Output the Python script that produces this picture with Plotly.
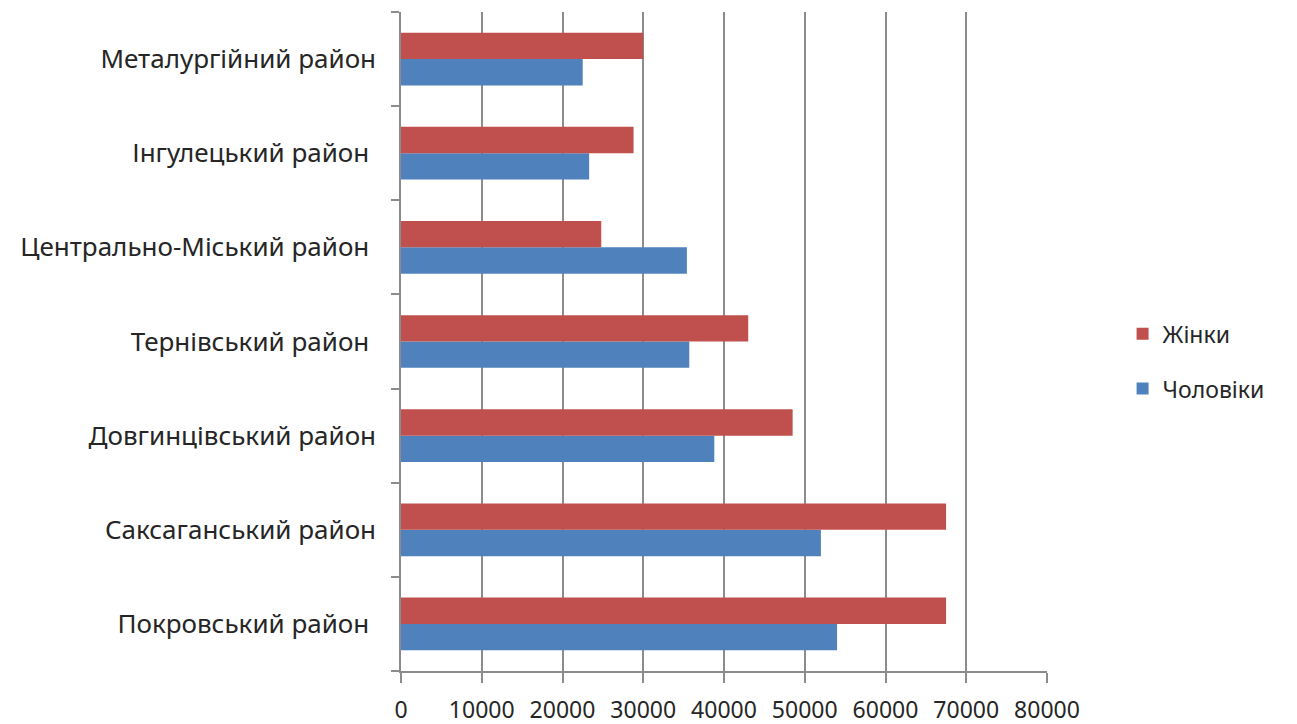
import plotly.graph_objects as go

districts = [
    "Покровський район ",
    "Саксаганський район",
    "Довгинцівський район",
    "Тернівський район ",
    "Центрально-Міський район ",
    "Інгулецький район ",
    "Металургійний район",
]
men = [54000, 52000, 38800, 35700, 35400, 23300, 22500]
women = [67500, 67500, 48500, 43000, 24800, 28800, 30000]
x_ticks = [0, 10000, 20000, 30000, 40000, 50000, 60000, 70000, 80000]

FONT = "Noto Sans"
GRID = "#8c8c8c"

fig = go.Figure()
fig.add_trace(go.Bar(y=districts, x=men, orientation="h", name="Чоловіки",
                     marker=dict(color="#4f81bd", line=dict(width=0)),
                     legendgroup="m", legendrank=2))
fig.add_trace(go.Bar(y=districts, x=women, orientation="h", name="Жінки",
                     marker=dict(color="#c0504d", line=dict(width=0)),
                     legendgroup="w", legendrank=1))

fig.update_layout(
    width=1297, height=724,
    margin=dict(l=393, r=258, t=4, b=61),
    paper_bgcolor="white", plot_bgcolor="white",
    barmode="group", bargap=0.44, bargroupgap=0,
    font=dict(family=FONT, size=22, color="#262626"),
    showlegend=True,
    legend=dict(x=1.117, y=0.47, xanchor="left", yanchor="middle",
                traceorder="grouped", tracegroupgap=22,
                font=dict(size=23), itemwidth=30),
    xaxis=dict(range=[0, 80000], tickvals=x_ticks, ticktext=[str(v) for v in x_ticks],
               showgrid=True, gridcolor=GRID, gridwidth=1.5,
               showline=True, linecolor=GRID, linewidth=1.5,
               ticks="outside", ticklen=10, tickcolor=GRID, tickwidth=1.5,
               zeroline=False, tickfont=dict(size=23), ticklabelstandoff=8,
               automargin=False),
    yaxis=dict(showline=True, linecolor=GRID, linewidth=1.5,
               ticks="outside", tickson="boundaries", ticklen=8, tickcolor=GRID, tickwidth=1.5,
               showgrid=False, tickfont=dict(size=26), ticklabelstandoff=18,
               automargin=False),
)

fig.write_html("out.html")
